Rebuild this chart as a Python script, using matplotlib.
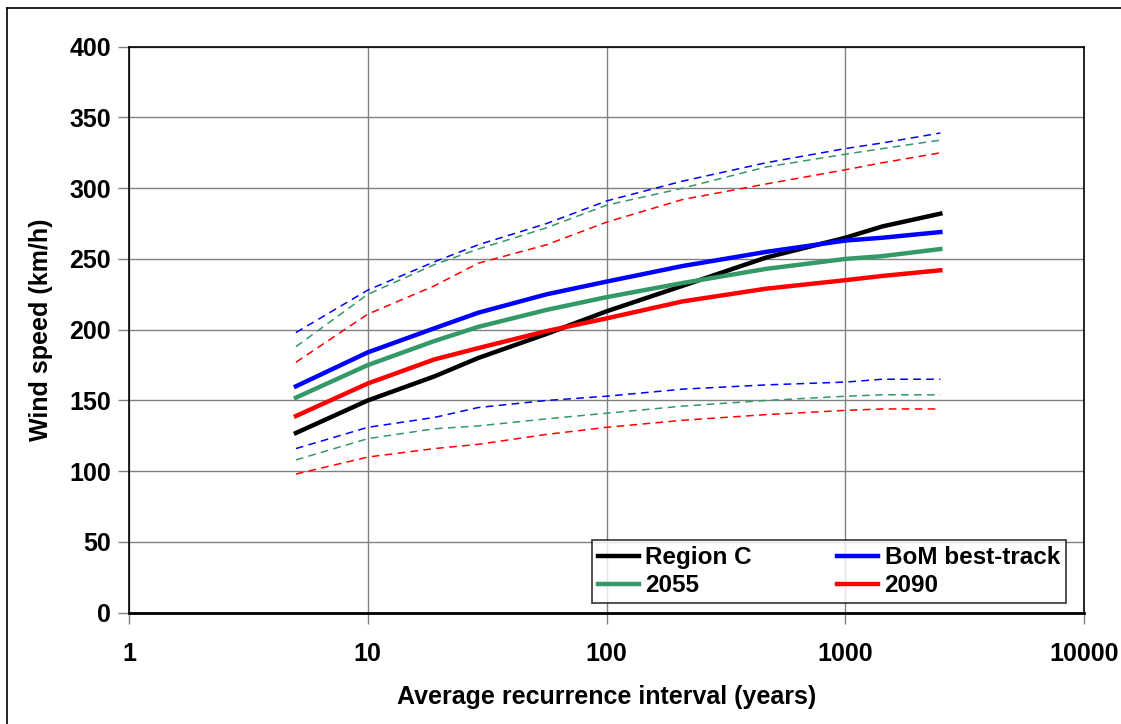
import numpy as np
import matplotlib.pyplot as plt
from matplotlib.lines import Line2D

# recurrence interval (years)
ari = [5, 10, 19, 29, 56, 100, 208, 466, 1000, 1430, 2500]

region_c = [127, 150, 167, 180, 197, 213, 231, 251, 265, 273, 282]
bom = [160, 184, 201, 212, 225, 234, 245, 255, 263, 265, 269]
y2055 = [152, 175, 192, 202, 214, 223, 233, 243, 250, 252, 257]
y2090 = [139, 162, 179, 187, 199, 208, 220, 229, 235, 238, 242]

bom_hi = [198, 228, 248, 260, 275, 291, 305, 318, 328, 332, 339]
y2055_hi = [188, 225, 246, 257, 272, 288, 300, 315, 324, 328, 334]
y2090_hi = [177, 211, 231, 247, 260, 276, 292, 303, 313, 318, 325]
bom_lo = [116, 131, 138, 145, 150, 153, 158, 161, 163, 165, 165]
y2055_lo = [108, 123, 130, 132, 137, 141, 146, 150, 153, 154, 154]
y2090_lo = [98, 110, 116, 119, 126, 131, 136, 140, 143, 144, 144]

xticks = [1, 10, 100, 1000, 10000]
yticks = np.arange(0, 401, 50)

plt.rcParams['font.family'] = ['Liberation Sans', 'DejaVu Sans']
plt.rcParams['font.weight'] = 'bold'

GREEN = '#339966'

fig = plt.figure(figsize=(11.21, 7.24), dpi=100)
ax = fig.add_axes([0.1151, 0.1537, 0.852, 0.7818])

# outer chart border
fig.add_artist(Line2D([7/1121, 7/1121], [0, 1 - 8/724], color='black', lw=1.2))
fig.add_artist(Line2D([7/1121, 1], [1 - 8/724, 1 - 8/724], color='black', lw=1.2))

dash = (0, (5, 3.5))
ax.plot(ari, bom_hi, color='blue', lw=1.1, linestyle=dash)
ax.plot(ari, y2055_hi, color=GREEN, lw=1.1, linestyle=dash)
ax.plot(ari, y2090_hi, color='red', lw=1.1, linestyle=dash)
ax.plot(ari, bom_lo, color='blue', lw=1.1, linestyle=dash)
ax.plot(ari, y2055_lo, color=GREEN, lw=1.1, linestyle=dash)
ax.plot(ari, y2090_lo, color='red', lw=1.1, linestyle=dash)

ax.plot(ari, region_c, color='black', lw=3.2, label='Region C')
ax.plot(ari, y2055, color=GREEN, lw=3.2, label='2055')
ax.plot(ari, bom, color='blue', lw=3.2, label='BoM best-track')
ax.plot(ari, y2090, color='red', lw=3.2, label='2090')

ax.set_xscale('log')
ax.set_xlim(1, 10000)
ax.set_ylim(0, 400)
ax.set_xticks(xticks)
ax.set_xticklabels([str(t) for t in xticks])
ax.xaxis.set_minor_locator(plt.NullLocator())
ax.set_yticks(yticks)

ax.grid(True, which='major', color='#808080', lw=1)
ax.set_axisbelow(True)
for side in ['top', 'left', 'right']:
    ax.spines[side].set_linewidth(1.2)
ax.spines['bottom'].set_linewidth(2)

ax.tick_params(axis='both', direction='out', length=8, width=1, color='#808080',
               labelsize=18, pad=5)
ax.tick_params(axis='x', pad=13)

ax.set_xlabel('Average recurrence interval (years)', fontsize=18, fontweight='bold', labelpad=14)
ax.set_ylabel('Wind speed (km/h)', fontsize=18, fontweight='bold', labelpad=12)

leg = ax.legend(loc='lower right', ncol=2, fontsize=17.5, frameon=True, fancybox=False,
                edgecolor='black', handlelength=1.7, handletextpad=0.25,
                columnspacing=3.5, labelspacing=0.2, borderpad=0.25,
                borderaxespad=0, bbox_to_anchor=(0.981, 0.017))
leg.get_frame().set_linewidth(1.2)
for t in leg.get_texts():
    t.set_fontweight('bold')

fig.savefig('out.png', dpi=100)
